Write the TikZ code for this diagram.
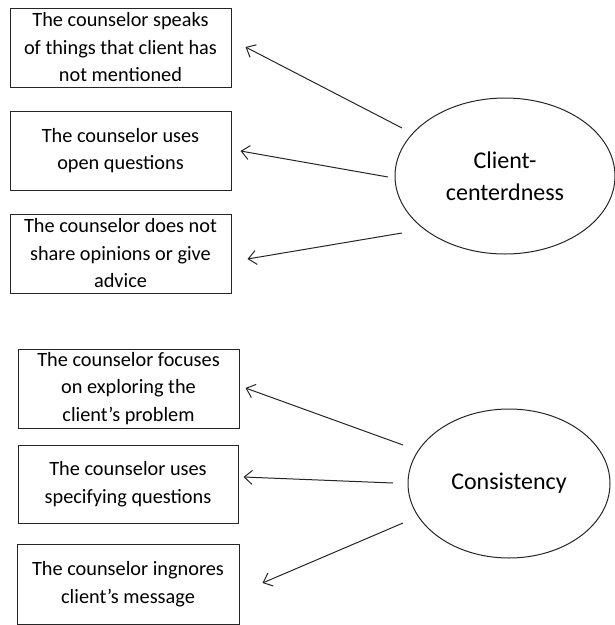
\documentclass[tikz,border=0pt]{standalone}
\usepackage{fontspec}
\setmainfont{Carlito}
\usetikzlibrary{arrows.meta,shapes.geometric,calc}
\begin{document}
\begin{tikzpicture}[x=1pt,y=-1pt,
  box/.style={draw=black!85, line width=1pt, minimum width=221pt, minimum height=79pt,
    align=center, font=\fontsize{20.3}{27.5}\selectfont, inner sep=0pt},
  ell/.style={draw=black!85, ellipse, line width=1pt, inner sep=0pt, align=center,
    font=\fontsize{24}{32}\selectfont},
  arr/.style={-{Straight Barb[length=8pt,width=14pt]}, line width=1pt, draw=black!85}]
\useasboundingbox (0,0) rectangle (615,625);
% top group
\node[box] (b1) at (120.5,47.5) {The counselor speaks\\of things that client has\\not mentioned};
\node[box] (b2) at (120.5,150.5) {The counselor uses\\open questions};
\node[box] (b3) at (120.5,253.5) {The counselor does not\\share opinions or give\\advice};
\node[ell, minimum width=220pt, minimum height=156pt] (e1) at (505,176) {Client-\\centerdness};
% bottom group
\node[box] (b4) at (128.5,388.5) {The counselor focuses\\on exploring the\\client’s problem};
\node[box, minimum width=220pt, minimum height=78pt] (b5) at (128,484) {The counselor uses\\specifying questions};
\node[box, minimum width=222pt, minimum height=80pt] (b6) at (128,584) {The counselor ingnores\\client’s message};
\node[ell, minimum width=202pt, minimum height=149pt] (e2) at (509,483.5) {Consistency};
% connector ends
\coordinate (s1) at ($(e1.center)+(-103,-48)$);
\coordinate (t1) at ($(b1.east)+(14,-0.5)$);
\coordinate (s2) at ($(e1.center)+(-117,1)$);
\coordinate (t2) at ($(b2.east)+(9,0.5)$);
\coordinate (s3) at ($(e1.center)+(-103,57)$);
\coordinate (t3) at ($(b3.east)+(16,5.5)$);
\coordinate (s4) at ($(e2.center)+(-106,-38.5)$);
\coordinate (t4) at ($(b4.east)+(6,-0.5)$);
\coordinate (s5) at ($(e2.center)+(-116,-0.5)$);
\coordinate (t5) at ($(b5.east)+(5,-7)$);
\coordinate (s6) at ($(e2.center)+(-106,39.5)$);
\coordinate (t6) at ($(b6.east)+(23,-1)$);
\draw[arr] (s1) -- (t1);
\draw[arr] (s2) -- (t2);
\draw[arr] (s3) -- (t3);
\draw[arr] (s4) -- (t4);
\draw[arr] (s5) -- (t5);
\draw[arr] (s6) -- (t6);
\end{tikzpicture}
\end{document}
